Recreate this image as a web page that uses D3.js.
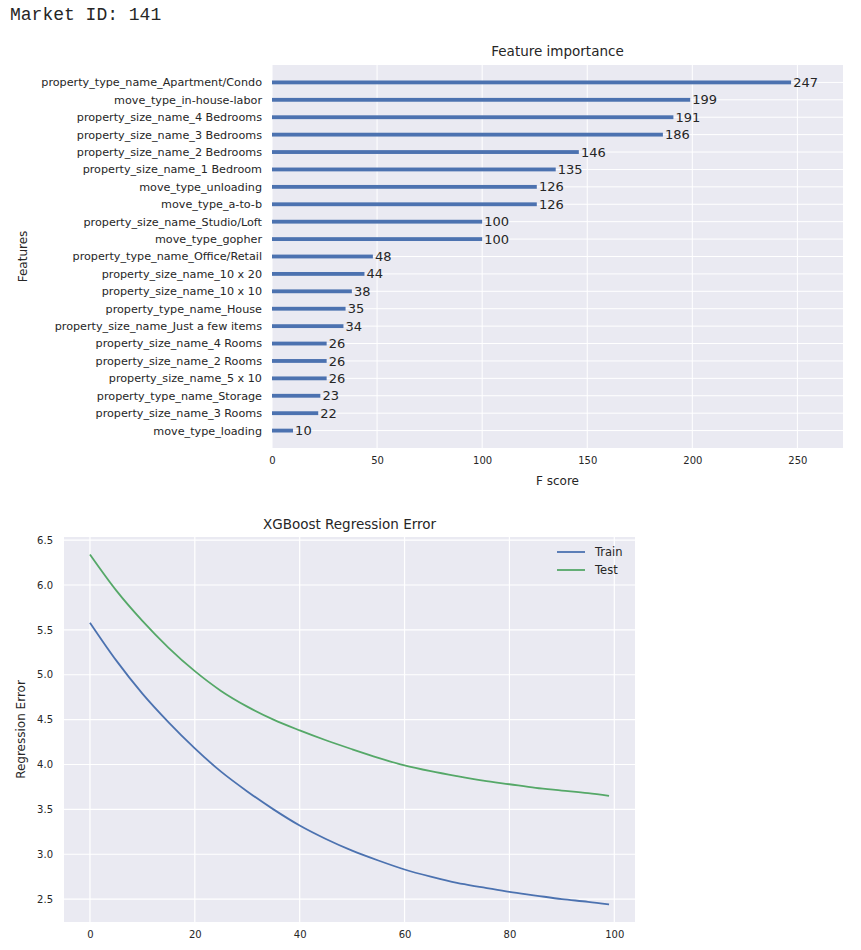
<!DOCTYPE html>
<html>
<head>
<meta charset="utf-8">
<script src="https://cdn.jsdelivr.net/npm/d3@7"></script>
<style>
  body { margin: 0; background: #fff; }
  text { font-family: "DejaVu Sans", "Liberation Sans", Arial, sans-serif; fill: #262626; }
  .mono { font-family: "Liberation Mono", "Courier New", monospace; }
</style>
</head>
<body>
<div id="chart"></div>
<script>
// feature importance (top to bottom)
const features = [
  "property_type_name_Apartment/Condo",
  "move_type_in-house-labor",
  "property_size_name_4 Bedrooms",
  "property_size_name_3 Bedrooms",
  "property_size_name_2 Bedrooms",
  "property_size_name_1 Bedroom",
  "move_type_unloading",
  "move_type_a-to-b",
  "property_size_name_Studio/Loft",
  "move_type_gopher",
  "property_type_name_Office/Retail",
  "property_size_name_10 x 20",
  "property_size_name_10 x 10",
  "property_type_name_House",
  "property_size_name_Just a few items",
  "property_size_name_4 Rooms",
  "property_size_name_2 Rooms",
  "property_size_name_5 x 10",
  "property_type_name_Storage",
  "property_size_name_3 Rooms",
  "move_type_loading"
];
const fScores = [247, 199, 191, 186, 146, 135, 126, 126, 100, 100, 48, 44, 38, 35, 34, 26, 26, 26, 23, 22, 10];
const fTicks = [0, 50, 100, 150, 200, 250];

const iterations = [0, 5, 10, 15, 20, 25, 30, 35, 40, 45, 50, 55, 60, 65, 70, 75, 80, 85, 90, 95, 99];
const trainErr = [5.58, 5.16, 4.79, 4.47, 4.18, 3.92, 3.70, 3.50, 3.32, 3.17, 3.04, 2.93, 2.83, 2.75, 2.68, 2.63, 2.58, 2.54, 2.50, 2.47, 2.44];
const testErr  = [6.34, 5.94, 5.60, 5.30, 5.04, 4.82, 4.645, 4.50, 4.38, 4.27, 4.17, 4.075, 3.99, 3.925, 3.87, 3.82, 3.78, 3.74, 3.71, 3.68, 3.65];
const errTicks = [2.5, 3.0, 3.5, 4.0, 4.5, 5.0, 5.5, 6.0, 6.5];
const iterTicks = [0, 20, 40, 60, 80, 100];

const BG = "#eaeaf2", BLUE = "#4c72b0", GREEN = "#55a868";

const svg = d3.select("#chart").append("svg")
  .attr("width", 861).attr("height", 950);

svg.append("text").attr("class", "mono")
  .attr("x", 10).attr("y", 20)
  .style("font-size", "18px")
  .text("Market ID: 141");

// ---------- Feature importance ----------
function drawImportance() {
  const L = 272, R = 843, T = 65, B = 448;
  const n = features.length;
  const x = d3.scaleLinear().domain([0, d3.max(fScores) * 1.1]).range([L, R]);
  const y = d3.scaleLinear().domain([-1, n]).range([B, T]);
  const pos = (i) => y(n - 1 - i);

  const g = svg.append("g");
  g.append("rect").attr("x", L).attr("y", T).attr("width", R - L).attr("height", B - T).attr("fill", BG);

  g.selectAll(".vg").data(fTicks).join("line")
    .attr("x1", d => x(d)).attr("x2", d => x(d)).attr("y1", T).attr("y2", B)
    .attr("stroke", "#fff").attr("stroke-width", 1);
  g.selectAll(".hg").data(d3.range(n)).join("line")
    .attr("x1", L).attr("x2", R).attr("y1", d => y(d)).attr("y2", d => y(d))
    .attr("stroke", "#fff").attr("stroke-width", 1);

  const bh = Math.abs(y(0) - y(0.22));
  g.selectAll(".bar").data(fScores).join("rect")
    .attr("x", x(0)).attr("y", (d, i) => pos(i) - bh / 2)
    .attr("width", d => x(d) - x(0)).attr("height", bh)
    .attr("fill", BLUE);

  g.selectAll(".val").data(fScores).join("text")
    .attr("x", d => x(d + 1)).attr("y", (d, i) => pos(i))
    .attr("dy", "0.35em").style("font-size", "13px")
    .text(d => d);

  const xAxis = g.append("g").attr("transform", `translate(0,${B})`)
    .call(d3.axisBottom(x).tickValues(fTicks).tickSize(0).tickPadding(9));
  xAxis.select(".domain").remove();
  xAxis.selectAll("text").style("font-size", "10px").attr("fill", "#262626")
    .style("font-family", "DejaVu Sans, sans-serif");

  g.selectAll(".ylab").data(features).join("text")
    .attr("x", L - 10).attr("y", (d, i) => pos(i)).attr("dy", "0.35em")
    .attr("text-anchor", "end").style("font-size", "11.2px")
    .text(d => d);

  g.append("text").attr("x", (L + R) / 2).attr("y", 56)
    .attr("text-anchor", "middle").style("font-size", "13.5px").text("Feature importance");
  g.append("text").attr("x", (L + R) / 2).attr("y", 485)
    .attr("text-anchor", "middle").style("font-size", "12px").text("F score");
  g.append("text").attr("transform", `translate(27,${(T + B) / 2}) rotate(-90)`)
    .attr("text-anchor", "middle").style("font-size", "12px").text("Features");
}

// ---------- Regression error ----------
function drawError() {
  const L = 64, R = 635, T = 537, B = 922;
  const x = d3.scaleLinear().domain([-4.95, 103.95]).range([L, R]);
  const y = d3.scaleLinear().domain([2.245, 6.535]).range([B, T]);

  const g = svg.append("g");
  g.append("rect").attr("x", L).attr("y", T).attr("width", R - L).attr("height", B - T).attr("fill", BG);

  g.selectAll(".vg").data(iterTicks).join("line")
    .attr("x1", d => x(d)).attr("x2", d => x(d)).attr("y1", T).attr("y2", B)
    .attr("stroke", "#fff").attr("stroke-width", 1.2);
  g.selectAll(".hg").data(errTicks).join("line")
    .attr("x1", L).attr("x2", R).attr("y1", d => y(d)).attr("y2", d => y(d))
    .attr("stroke", "#fff").attr("stroke-width", 1.2);

  const line = d3.line().x(d => x(d[0])).y(d => y(d[1])).curve(d3.curveMonotoneX);
  const series = [
    { name: "Train", vals: trainErr, color: BLUE },
    { name: "Test", vals: testErr, color: GREEN }
  ];
  series.forEach(s => {
    g.append("path").datum(iterations.map((it, i) => [it, s.vals[i]]))
      .attr("d", line).attr("fill", "none")
      .attr("stroke", s.color).attr("stroke-width", 1.8);
  });

  const xAxis = g.append("g").attr("transform", `translate(0,${B})`)
    .call(d3.axisBottom(x).tickValues(iterTicks).tickSize(0).tickPadding(9));
  const yAxis = g.append("g").attr("transform", `translate(${L},0)`)
    .call(d3.axisLeft(y).tickValues(errTicks).tickFormat(d3.format(".1f")).tickSize(0).tickPadding(11));
  [xAxis, yAxis].forEach(a => {
    a.select(".domain").remove();
    a.selectAll("text").style("font-size", "10px").attr("fill", "#262626")
      .style("font-family", "DejaVu Sans, sans-serif");
  });

  const lg = g.selectAll(".leg").data(series).join("g")
    .attr("transform", (d, i) => `translate(557,${552 + i * 18})`);
  lg.append("line").attr("x1", 0).attr("x2", 28)
    .attr("stroke", d => d.color).attr("stroke-width", 1.8);
  lg.append("text").attr("x", 38).attr("dy", "0.35em")
    .style("font-size", "11.5px").text(d => d.name);

  g.append("text").attr("x", (L + R) / 2).attr("y", 529)
    .attr("text-anchor", "middle").style("font-size", "13.5px").text("XGBoost Regression Error");
  g.append("text").attr("transform", `translate(25,${(T + B) / 2}) rotate(-90)`)
    .attr("text-anchor", "middle").style("font-size", "12px").text("Regression Error");
}

drawImportance();
drawError();
</script>
</body>
</html>
